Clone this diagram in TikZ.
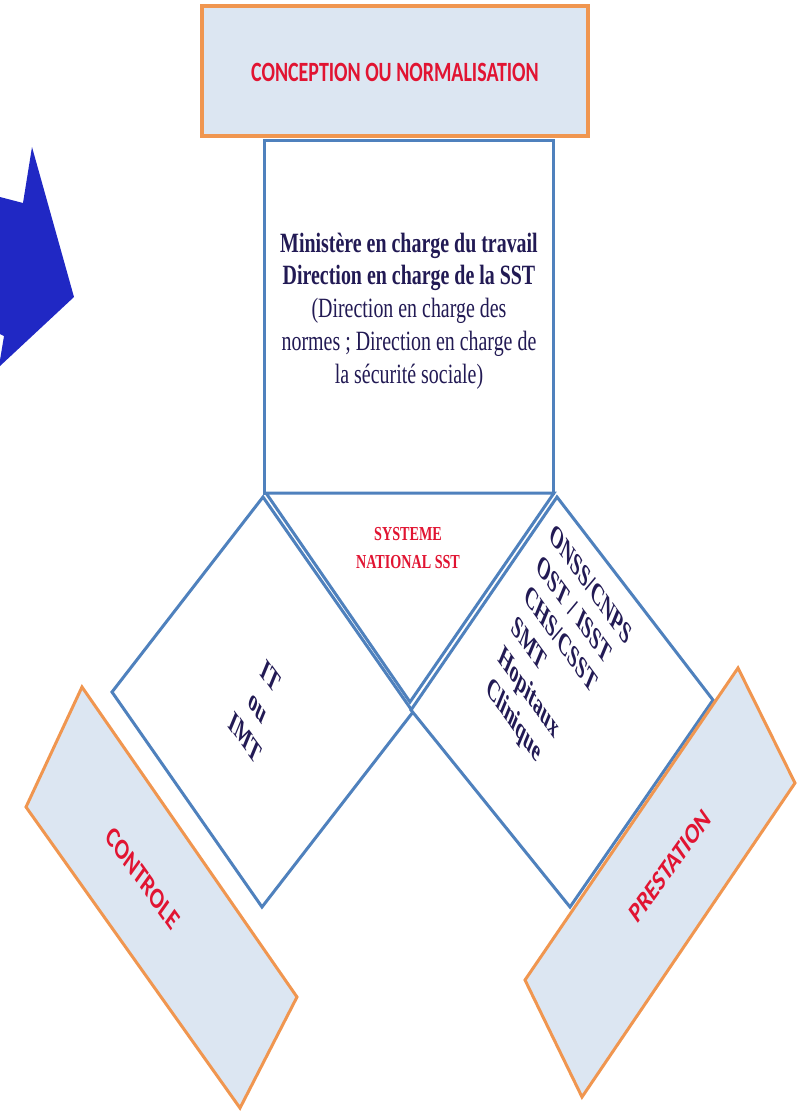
\documentclass[tikz,border=0pt]{standalone}
\usepackage{fontspec}
\setmainfont{Liberation Serif}
\newfontfamily\tagfont{Carlito}
\usetikzlibrary{positioning}
\definecolor{FrameBlue}{RGB}{79,129,189}
\definecolor{FrameOrange}{RGB}{240,150,80}
\definecolor{PaleBlue}{RGB}{220,230,242}
\definecolor{TagRed}{RGB}{225,20,50}
\definecolor{InkNavy}{RGB}{34,26,84}
\definecolor{ArrowBlue}{RGB}{32,40,196}

\begin{document}
\begin{tikzpicture}[x=1bp, y=-1bp, line join=miter,
    bluebox/.style={draw=FrameBlue, line width=3bp, fill=white},
    tagbox/.style={draw=FrameOrange, line width=3bp, fill=PaleBlue},
    tagtext/.style={font=\tagfont\bfseries\fontsize{20}{24}\selectfont, text=TagRed, inner sep=0pt},
    bodytext/.style={font=\bfseries\fontsize{20}{24.5}\selectfont, text=InkNavy, inner sep=0pt, align=center},
    slantdown/.style={cm={0.71,-0.98,0.52,1.25,(0,0)}}]
    \def\ys{1.4}
    \useasboundingbox (0,0) rectangle (807,1115);
    % Blue arrow (cut at the left edge)
    \fill[ArrowBlue] (0,197) -- (23,203) -- (32,147) -- (74,297) -- (0,366) -- (0,360) -- (4,336) -- (0,334) -- cycle;
    % Title box
    \draw[tagbox, line width=3.5bp] (202,6) rectangle (588,136);
    \node[tagtext, font=\tagfont\bfseries\fontsize{20}{24}\selectfont, yscale=\ys] (concept) at (395,72) {CONCEPTION OU NORMALISATION};
    % Ministry box
    \draw[bluebox] (264,140) rectangle (553,493);
    \node[bodytext, font=\fontsize{20}{23.5}\selectfont, yscale=\ys] (ministere) at (409,311)
        {\textbf{Minist\`ere en charge du travail}\\ \textbf{Direction en charge de la SST}\\
         (Direction en charge des\\ normes ; Direction en charge de\\ la s\'ecurit\'e sociale)};
    % Side squares
    \draw[bluebox] (263,497) -- (413,712) -- (262,907) -- (112,692) -- cycle;
    \draw[bluebox] (557,497) -- (713,700) -- (570,907) -- (411,710) -- cycle;
    % Centre triangle
    \draw[bluebox] (266,493) -- (554,493) -- (410,702) -- cycle;
    \node[bodytext, text=TagRed, font=\bfseries\fontsize{14.2}{20}\selectfont, yscale=\ys] (systeme) at (408,548) {SYSTEME\\ NATIONAL SST};
    % Square texts
    \node[bodytext, slantdown] (inspection) at (258,707) {IT\\ ou\\ IMT};
    \node[bodytext, align=left, slantdown] (prestataires) at (558,663)
        {ONSS/CNPS\\ OST / ISST\\ CHS/CSST\\ SMT\\ Hopitaux\\ Clinique};
    % Tag boxes
    \draw[tagbox] (82,687) -- (297,997) -- (240,1108) -- (26,807) -- cycle;
    \node[tagtext, font=\tagfont\bfseries\fontsize{21}{24}\selectfont, yscale=\ys, rotate=-45] (controle) at (143,878) {CONTROLE};
    \draw[tagbox] (525,980) -- (738,668) -- (795,783) -- (582,1097) -- cycle;
    \node[tagtext, font=\tagfont\bfseries\fontsize{20.8}{24}\selectfont, yscale=\ys, rotate=45] (prestation) at (670,866) {PRESTATION};
\end{tikzpicture}
\end{document}
